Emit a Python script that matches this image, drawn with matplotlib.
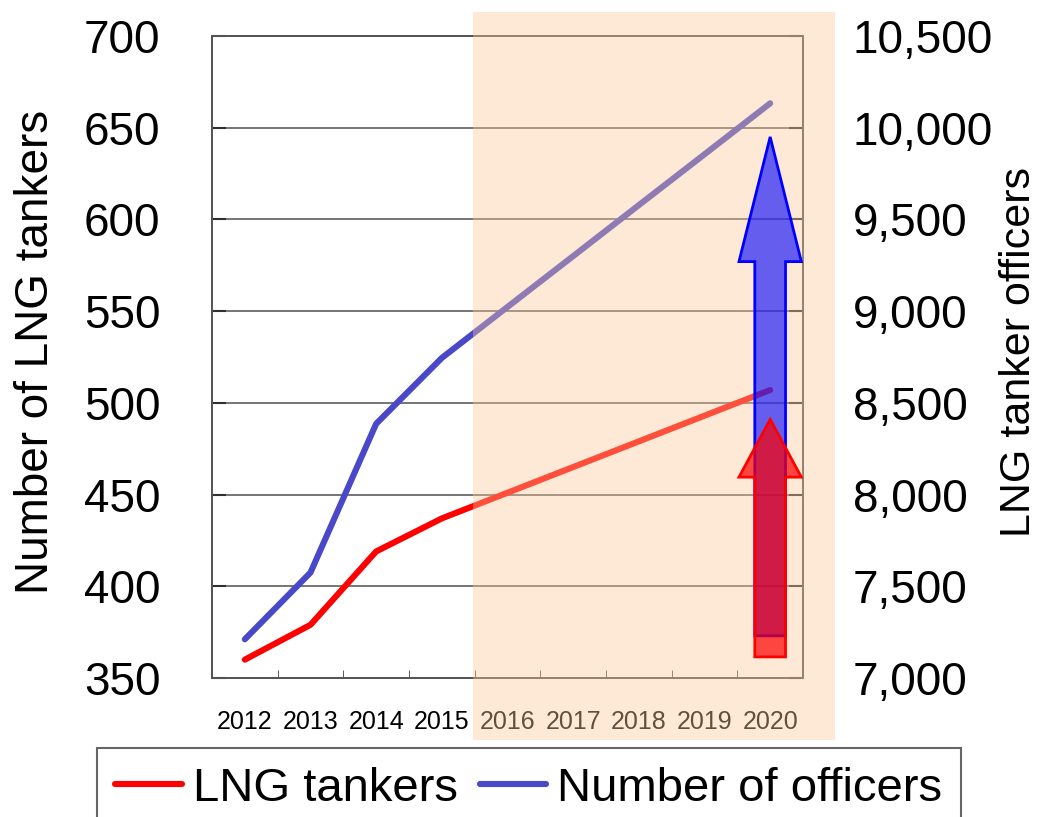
import matplotlib
matplotlib.use("Agg")
import matplotlib.pyplot as plt
import numpy as np
from matplotlib import font_manager
from matplotlib.lines import Line2D
from matplotlib.patches import Polygon, Rectangle
from matplotlib.ticker import FuncFormatter

years = ["2012", "2013", "2014", "2015", "2016", "2017", "2018", "2019", "2020"]
tankers = [360, 379, 419, 437, 451, 465, 479, 493, 507]
officers = [7211, 7575, 8386, 8745, 9023, 9300, 9578, 9855, 10133]

left_ticks = [350, 400, 450, 500, 550, 600, 650, 700]
right_ticks = [7000, 7500, 8000, 8500, 9000, 9500, 10000, 10500]

plt.rcParams["font.family"] = "Liberation Sans"
names = {f.name for f in font_manager.fontManager.ttflist}
narrow = "Liberation Sans Narrow" in names

red = "#ff0000"
blue = "#4848c8"

W, H = 1047, 817
fig = plt.figure(figsize=(W / 100, H / 100), dpi=100)
pos = [212 / W, 1 - 678 / H, (803 - 212) / W, (678 - 36) / H]
ax = fig.add_axes(pos)

x = np.arange(len(years))
ax.plot(x, tankers, color=red, lw=4.4, solid_capstyle="round", zorder=3)
ax.set_xlim(-0.5, len(years) - 0.5)
ax.set_ylim(350, 700)
ax.set_yticks(left_ticks)
ax.yaxis.grid(True, color="#505050", lw=1.1)
ax.set_axisbelow(True)

ax.set_xticks(x)
ax.set_xticklabels(years, family="Liberation Sans Narrow" if narrow else "Liberation Sans",
                   fontsize=21.5 if narrow else 18)
ax.set_xticks(np.arange(0.5, len(years) - 1), minor=True)
ax.tick_params(axis="x", which="major", length=0, pad=23)
ax.tick_params(axis="x", which="minor", direction="in", length=6, color="#404040")
ax.tick_params(axis="y", direction="in", length=10, width=1.5, color="#303030",
               labelsize=33, pad=37)
ax.set_ylabel("Number of LNG tankers", fontsize=33)
ax.yaxis.set_label_coords(-0.261, 0.508)
for s in ax.spines.values():
    s.set_color("#555555")
    s.set_linewidth(1.3)

ax2 = ax.twinx()
ax2.plot(x, officers, color=blue, lw=4.4, solid_capstyle="round", zorder=3)
ax2.set_ylim(7000, 10500)
ax2.set_yticks(right_ticks)
ax2.yaxis.set_major_formatter(FuncFormatter(lambda v, p: f"{v:,.0f}"))
ax2.tick_params(axis="y", direction="in", length=10, width=1.5, color="#303030",
                labelsize=33, pad=36)
ax2.set_ylabel("LNG tanker officers", fontsize=31, rotation=90)
ax2.yaxis.set_label_coords(1.3316, 0.508)
for s in ax2.spines.values():
    s.set_color("#555555")
    s.set_linewidth(1.3)

# forecast shading laid over everything, arrows on top of it
shade = Rectangle((473 / W, 1 - 740 / H), (835 - 473) / W, (740 - 12) / H,
                  transform=fig.transFigure, facecolor="#fac896", alpha=0.4,
                  edgecolor="none", zorder=1)
fig.add_artist(shade)

ax3 = fig.add_axes(pos, zorder=2)
ax3.set_xlim(ax.get_xlim())
ax3.set_ylim(ax.get_ylim())
ax3.axis("off")


def up_arrow(cx, bottom, head_base, tip, shaft=0.234, head=0.475):
    return [(cx - shaft, bottom), (cx + shaft, bottom), (cx + shaft, head_base),
            (cx + head, head_base), (cx, tip), (cx - head, head_base),
            (cx - shaft, head_base)]


ax3.add_patch(Polygon(up_arrow(8, 373, 577, 645), closed=True,
                      facecolor=(0, 0, 1, 0.6), edgecolor="#0000ff", lw=2))
ax3.add_patch(Polygon(up_arrow(8, 361.5, 459.5, 491), closed=True,
                      facecolor=(1, 0, 0, 0.7), edgecolor="#ff0000", lw=2))

handles = [Line2D([], [], color=red, lw=4.4, solid_capstyle="round"),
           Line2D([], [], color=blue, lw=4.4, solid_capstyle="round")]
leg = fig.legend(handles, ["LNG tankers", "Number of officers"], loc="upper center",
                 bbox_to_anchor=(529 / W, 1 - 748 / H), ncol=2, fontsize=34,
                 frameon=True, fancybox=False, edgecolor="#404040",
                 handlelength=1.4, handletextpad=0.25, columnspacing=0.45,
                 borderaxespad=0, borderpad=0.4)
leg.get_frame().set_linewidth(1.5)

fig.savefig("out.png", dpi=100)
